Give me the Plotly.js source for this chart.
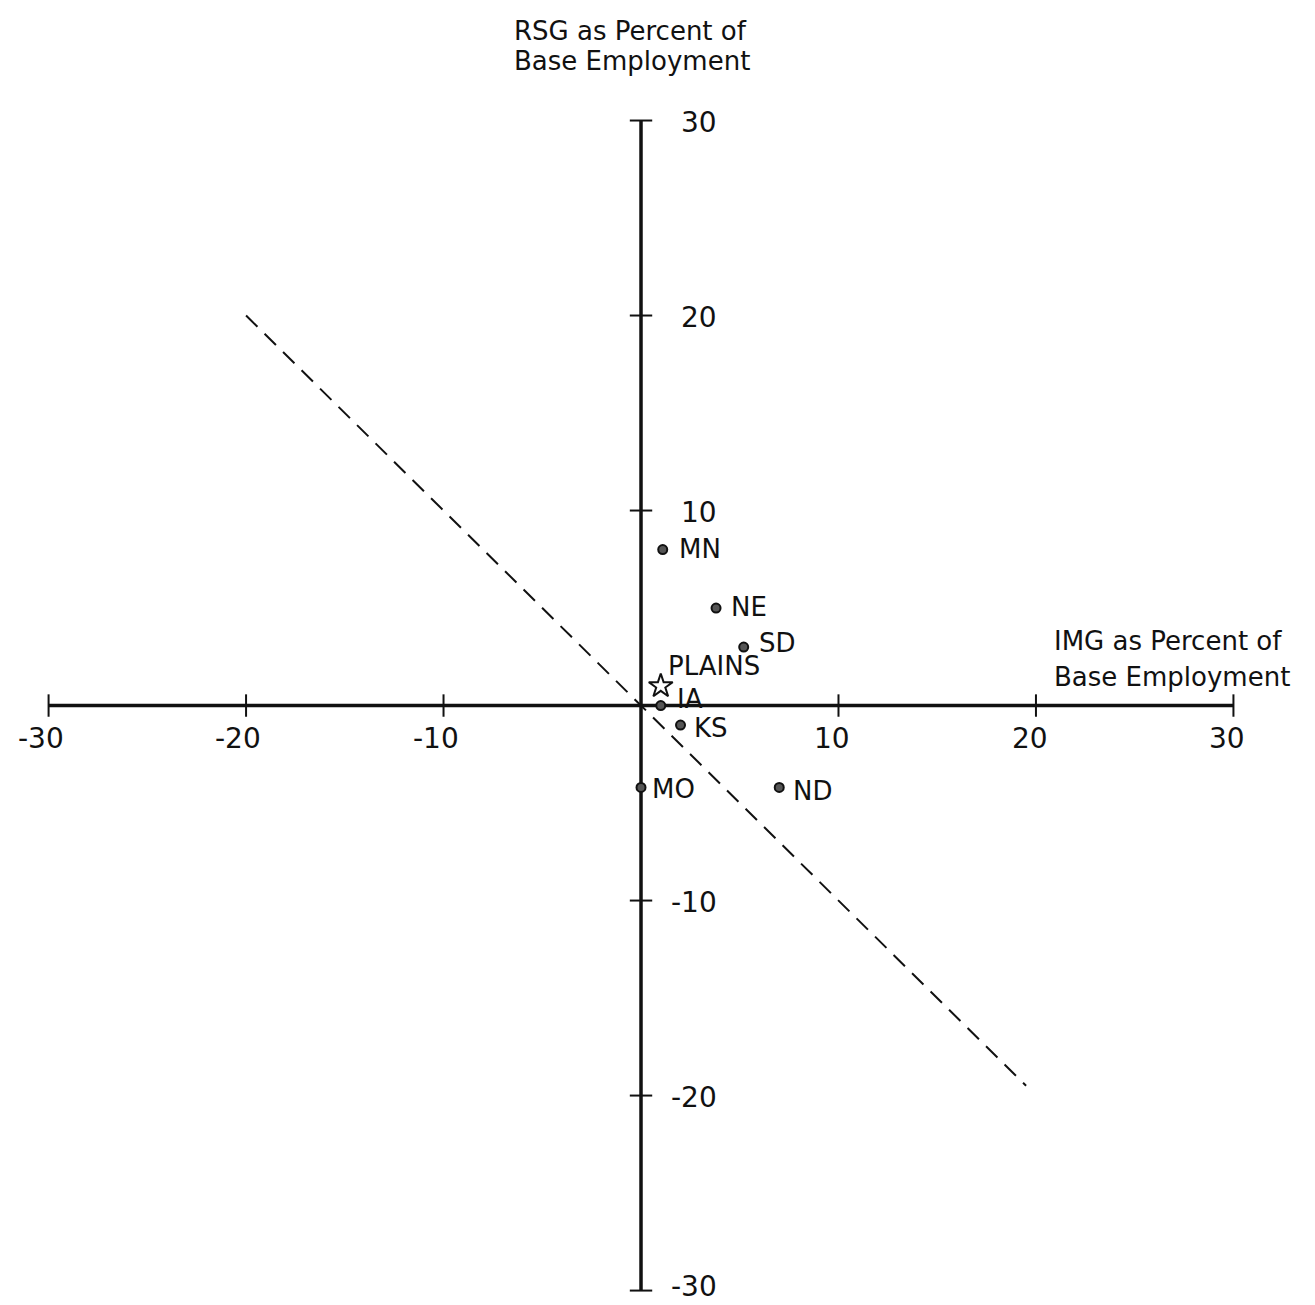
<!DOCTYPE html>
<html>
<head>
<meta charset="utf-8">
<script src="https://cdn.plot.ly/plotly-3.0.1.min.js"></script>
<style>html,body{margin:0;padding:0;background:#fff;}#chart{width:1315px;height:1305px;}</style>
</head>
<body>
<div id="chart"></div>
<script>
// ---- data ----
const states = ["MN", "NE", "SD", "IA", "KS", "MO", "ND"];
const imgPct = [1.1, 3.8, 5.2, 1.0, 2.0, 0.0, 7.0];
const rsgPct = [8.0, 5.0, 3.0, 0.0, -1.0, -4.2, -4.2];
const regionName = ["PLAINS"];
const regionImg = [1.0];
const regionRsg = [1.0];
const refLineX = [-20, 19.5];
const refLineY = [20, -19.5];
const tickVals = [-30, -20, -10, 10, 20, 30];
const tickText = ["-30", "-20", "-10", "10", "20", "30"];
const axisMin = -30, axisMax = 30;
const xTitle = ["IMG as Percent of", "Base Employment"];
const yTitle = ["RSG as Percent of", "Base Employment"];

// ---- style ----
const FONT = "DejaVu Sans, Verdana, sans-serif";
const INK = "#111";
const labelOffsets = {
  MN: [15, 1], NE: [14, 1], SD: [14, 4], IA: [15, 7],
  KS: [12, -3], MO: [10, -2], ND: [13, -4], PLAINS: [6, 20]
};

const traces = [];
// axes lines
traces.push({x: [axisMin, axisMax], y: [0, 0], mode: "lines", line: {color: INK, width: 3.5}, hoverinfo: "skip"});
traces.push({x: [0, 0], y: [axisMin, axisMax], mode: "lines", line: {color: INK, width: 3.5}, hoverinfo: "skip"});
// tick marks
traces.push({x: tickVals, y: tickVals.map(() => 0), mode: "markers",
  marker: {symbol: "line-ns", size: 16, line: {color: INK, width: 2}}, hoverinfo: "skip"});
traces.push({x: tickVals.map(() => 0), y: tickVals, mode: "markers",
  marker: {symbol: "line-ew", size: 16, line: {color: INK, width: 2}}, hoverinfo: "skip"});
// dashed reference line
traces.push({x: refLineX, y: refLineY, mode: "lines",
  line: {color: INK, width: 2, dash: "16px,10px"}, hoverinfo: "skip"});
// state points
traces.push({x: imgPct, y: rsgPct, mode: "markers",
  marker: {symbol: "circle", size: 9, color: "#555", line: {color: INK, width: 2}}, hoverinfo: "skip"});
// plains star
traces.push({x: regionImg, y: regionRsg, mode: "markers",
  marker: {symbol: "star-open", size: 18, color: INK, line: {color: INK, width: 2}}, hoverinfo: "skip"});

const annotations = [];
const labFont = {family: FONT, size: 26, color: INK};
states.forEach((s, i) => {
  const o = labelOffsets[s];
  annotations.push({x: imgPct[i], y: rsgPct[i], xref: "x", yref: "y", text: s, showarrow: false,
    xanchor: "left", yanchor: "middle", xshift: o[0], yshift: o[1], font: labFont, borderpad: 0});
});
regionName.forEach((s, i) => {
  const o = labelOffsets[s];
  annotations.push({x: regionImg[i], y: regionRsg[i], xref: "x", yref: "y", text: s, showarrow: false,
    xanchor: "left", yanchor: "middle", xshift: o[0], yshift: o[1], font: labFont, borderpad: 0});
});
// tick labels
const tickFont = {family: FONT, size: 28, color: INK};
tickVals.forEach((v, i) => {
  annotations.push({x: v, y: 0, xref: "x", yref: "y", text: tickText[i], showarrow: false,
    xanchor: "center", yanchor: "middle", yshift: -33, xshift: v < 0 ? -8 : -6, font: tickFont});
  annotations.push({x: 0, y: v, xref: "x", yref: "y", text: tickText[i], showarrow: false,
    xanchor: "right", yanchor: "middle", xshift: 78, yshift: v === axisMin ? 4 : -2, font: tickFont});
});
// axis titles
const titleFont = {family: FONT, size: 26, color: INK};
annotations.push({x: 0, y: axisMax, xref: "x", yref: "y", text: yTitle[0], showarrow: false,
  xanchor: "center", yanchor: "middle", xshift: -11, yshift: 90, font: titleFont});
annotations.push({x: 0, y: axisMax, xref: "x", yref: "y", text: yTitle[1], showarrow: false,
  xanchor: "center", yanchor: "middle", xshift: -9, yshift: 60, font: titleFont});
annotations.push({x: axisMax, y: 0, xref: "x", yref: "y", text: xTitle[0], showarrow: false,
  xanchor: "left", yanchor: "middle", xshift: -181, yshift: 65, font: titleFont});
annotations.push({x: axisMax, y: 0, xref: "x", yref: "y", text: xTitle[1], showarrow: false,
  xanchor: "left", yanchor: "middle", xshift: -181, yshift: 29, font: titleFont});

const layout = {
  width: 1315, height: 1305,
  margin: {l: 0, r: 0, t: 0, b: 0},
  paper_bgcolor: "#fff", plot_bgcolor: "#fff",
  showlegend: false,
  xaxis: {range: [-32.46, 34.13], visible: false, fixedrange: true},
  yaxis: {range: [-30.74, 36.18], visible: false, fixedrange: true},
  annotations: annotations
};
Plotly.newPlot("chart", traces, layout, {displayModeBar: false, staticPlot: true});
</script>
</body>
</html>
